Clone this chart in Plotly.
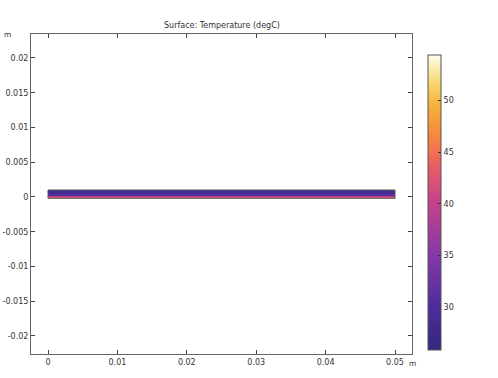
import plotly.graph_objects as go

# Data
x_edges = [0.0, 0.05]                      # m, strip extent in x
y_edges = [-0.0002, -0.0001, 0.0, 0.0001, 0.0002, 0.0004, 0.0006, 0.0008, 0.001]  # m
temps = [47.0, 43.5, 38.5, 33.5, 30.5, 29.0, 28.0, 29.5]  # degC per layer (bottom->top)
t_min, t_max = 25.85, 54.4
x_ticks = [0, 0.01, 0.02, 0.03, 0.04, 0.05]
x_labels = ["0", "0.01", "0.02", "0.03", "0.04", "0.05"]
y_ticks = [0.02, 0.015, 0.01, 0.005, 0, -0.005, -0.01, -0.015, -0.02]
y_labels = ["0.02", "0.015", "0.01", "0.005", "0", "-0.005", "-0.01", "-0.015", "-0.02"]
cb_ticks = [30, 35, 40, 45, 50]

W, H = 498, 378
L, R, T, B = 31, 86, 34, 24
pw, ph = W - L - R, H - T - B

colorscale = [
    [0.0, "#35277e"],
    [0.15, "#4f2d9c"],
    [0.32, "#8537a8"],
    [0.50, "#c5428c"],
    [0.62, "#e95c66"],
    [0.72, "#f7843f"],
    [0.83, "#f5b23a"],
    [0.90, "#f7d56a"],
    [1.0, "#fffdeb"],
]

FS = 8

fig = go.Figure()
fig.add_trace(go.Heatmap(
    x=x_edges, y=y_edges, z=[[t] for t in temps],
    zmin=t_min, zmax=t_max, colorscale=colorscale, zsmooth=False,
    colorbar=dict(
        thickness=13, thicknessmode="pixels",
        len=295, lenmode="pixels",
        x=(428 - L) / pw, xanchor="left", xpad=0,
        y=(H - B - 202.4) / ph, yanchor="middle", ypad=0,
        outlinewidth=1, outlinecolor="#555",
        tickvals=cb_ticks, ticks="inside", ticklen=3, tickcolor="#333",
        tickfont=dict(family="DejaVu Sans", size=FS, color="#333"),
    ),
    showscale=True,
))
# strip outline
fig.add_trace(go.Scatter(
    x=[x_edges[0], x_edges[1], x_edges[1], x_edges[0], x_edges[0]],
    y=[y_edges[0], y_edges[0], y_edges[-1], y_edges[-1], y_edges[0]],
    mode="lines", line=dict(color="#555", width=1), showlegend=False, hoverinfo="skip",
))

axis_common = dict(
    showgrid=False, zeroline=False, showline=True, linecolor="#666", linewidth=1,
    mirror="ticks", ticks="inside", ticklen=4, tickcolor="#444", automargin=False,
    tickfont=dict(family="DejaVu Sans", size=FS, color="#333"),
)
fig.update_xaxes(range=[-0.00245, 0.05245], tickvals=x_ticks, ticktext=x_labels, **axis_common)
fig.update_yaxes(range=[-0.0226, 0.02345], tickvals=y_ticks, ticktext=y_labels,
                 ticklabelstandoff=0, **axis_common)

fig.update_layout(
    width=W, height=H, margin=dict(l=L, r=R, t=T, b=B, autoexpand=False),
    paper_bgcolor="white", plot_bgcolor="white", showlegend=False,
    font=dict(family="DejaVu Sans", size=FS, color="#333"),
    annotations=[
        dict(text="Surface: Temperature (degC)", xref="paper", yref="paper",
             x=0.5, y=(H - B - 25) / ph, xanchor="center", yanchor="middle",
             showarrow=False, font=dict(size=FS, color="#333")),
        dict(text="m", xref="paper", yref="paper",
             x=(2 - L) / pw, y=(H - B - 34) / ph, xanchor="left", yanchor="middle",
             showarrow=False, font=dict(size=7.5, color="#333")),
        dict(text="m", xref="paper", yref="paper",
             x=(407 - L) / pw, y=(H - B - 363) / ph, xanchor="left", yanchor="middle",
             showarrow=False, font=dict(size=7.5, color="#333")),
    ],
)

fig.write_html("out.html")
